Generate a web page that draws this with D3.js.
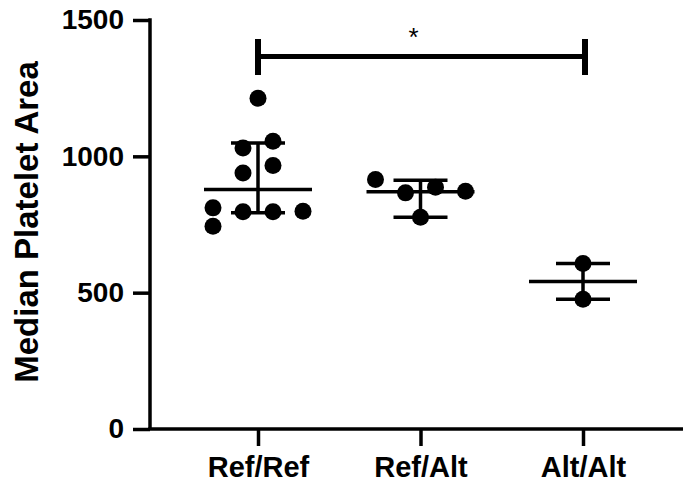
<!DOCTYPE html>
<html>
<head>
<meta charset="utf-8">
<script src="https://cdn.jsdelivr.net/npm/d3@7"></script>
<style>
  html, body { margin: 0; padding: 0; background: #fff; }
  svg { display: block; }
  text { font-family: "Liberation Sans", Arial, sans-serif; fill: #000; }
</style>
</head>
<body>
<svg id="chart" width="683" height="484"></svg>
<script>
// Genotype groups and the individual measurements in each
const categories = ["Ref/Ref", "Ref/Alt", "Alt/Alt"];
const refRef = [1213, 1031, 1055, 939, 966, 811, 797, 797, 799, 744];
const refAlt = [915, 866, 887, 872, 777];
const altAlt = [607, 476];

// Summary line (median) and error-bar limits for each group
const centerLine = [878, 870, 541];
const barLow = [793, 777, 476];
const barHigh = [1049, 912, 607];

const yTicks = [0, 500, 1000, 1500];

// Pairwise comparison annotation
const comparison = { from: "Ref/Ref", to: "Alt/Alt", label: "*" };

const groups = [refRef, refAlt, altAlt];

const svg = d3.select("#chart");
const plot = { left: 150, right: 683, top: 20, bottom: 429 };

const y = d3.scaleLinear().domain([0, 1500]).range([plot.bottom, plot.top]);
const x = d3.scalePoint().domain(categories).range([258, 583]);

const stroke = 3.5;
const dotR = 8.5;
const colStep = 30;     // horizontal spacing between side-by-side dots
const maxCols = 4;

// Spread points that would overlap vertically into side-by-side columns
function spread(values) {
  const order = d3.range(values.length).sort((a, b) => values[b] - values[a]);
  const clusters = [];
  let cur = null, prev = null;
  order.forEach(i => {
    if (prev !== null && (y(values[i]) - y(values[prev])) < dotR * 2) {
      cur.push(i);
    } else {
      cur = [i];
      clusters.push(cur);
    }
    prev = i;
  });
  const offsets = new Array(values.length).fill(0);
  clusters.forEach(c => {
    c.sort((a, b) => a - b);
    const width = Math.min(c.length, maxCols);
    c.forEach((idx, k) => {
      const col = k % maxCols;
      offsets[idx] = (col - (width - 1) / 2) * colStep;
    });
  });
  return offsets;
}

// Y axis
const yAxis = d3.axisLeft(y).tickValues(yTicks).tickSize(17).tickPadding(9).tickFormat(d3.format("d"));
const gy = svg.append("g").attr("transform", `translate(${plot.left},0)`).call(yAxis);
gy.select(".domain").remove();
gy.selectAll(".tick line").attr("stroke", "#000").attr("stroke-width", stroke);
gy.selectAll(".tick text")
  .attr("font-size", 28).attr("font-weight", "bold")
  .attr("font-family", "Liberation Sans, Arial, sans-serif");
svg.append("line")
  .attr("x1", plot.left).attr("x2", plot.left)
  .attr("y1", y(1500) - stroke / 2).attr("y2", plot.bottom)
  .attr("stroke", "#000").attr("stroke-width", stroke);

// X axis
const xAxis = d3.axisBottom(x).tickSize(17).tickPadding(10);
const gx = svg.append("g").attr("transform", `translate(0,${plot.bottom})`).call(xAxis);
gx.select(".domain").remove();
gx.selectAll(".tick line").attr("stroke", "#000").attr("stroke-width", stroke);
gx.selectAll(".tick text")
  .attr("font-size", 29).attr("font-weight", "bold")
  .attr("font-family", "Liberation Sans, Arial, sans-serif");
svg.append("line")
  .attr("x1", plot.left - stroke / 2).attr("x2", plot.right)
  .attr("y1", plot.bottom).attr("y2", plot.bottom)
  .attr("stroke", "#000").attr("stroke-width", stroke);

// Y axis title
svg.append("text")
  .attr("transform", `translate(38,222) rotate(-90)`)
  .attr("text-anchor", "middle")
  .attr("font-size", 33).attr("font-weight", "bold")
  .text("Median Platelet Area");

// Per-group summary bars and points
categories.forEach((cat, gi) => {
  const cx = x(cat);
  const g = svg.append("g");
  // median line
  g.append("line")
    .attr("x1", cx - 54).attr("x2", cx + 54)
    .attr("y1", y(centerLine[gi])).attr("y2", y(centerLine[gi]))
    .attr("stroke", "#000").attr("stroke-width", stroke);
  // whisker
  g.append("line")
    .attr("x1", cx).attr("x2", cx)
    .attr("y1", y(barLow[gi])).attr("y2", y(barHigh[gi]))
    .attr("stroke", "#000").attr("stroke-width", stroke);
  [barLow[gi], barHigh[gi]].forEach(v => {
    g.append("line")
      .attr("x1", cx - 27).attr("x2", cx + 27)
      .attr("y1", y(v)).attr("y2", y(v))
      .attr("stroke", "#000").attr("stroke-width", stroke);
  });
  const vals = groups[gi];
  const off = spread(vals);
  g.selectAll("circle").data(vals).join("circle")
    .attr("cx", (d, i) => cx + off[i])
    .attr("cy", d => y(d))
    .attr("r", dotR)
    .attr("fill", "#000");
});

// Significance bracket
const sx1 = x(comparison.from), sx2 = x(comparison.to) + 2;
const sy = 56.5;
const br = svg.append("g");
br.append("line")
  .attr("x1", sx1).attr("x2", sx2).attr("y1", sy).attr("y2", sy)
  .attr("stroke", "#000").attr("stroke-width", 5);
[sx1, sx2].forEach(xx => {
  br.append("line")
    .attr("x1", xx).attr("x2", xx).attr("y1", sy - 17.5).attr("y2", sy + 18.5)
    .attr("stroke", "#000").attr("stroke-width", 6);
});
br.append("text")
  .attr("x", (sx1 + sx2) / 2 - 8).attr("y", 46)
  .attr("text-anchor", "middle")
  .attr("font-size", 26)
  .text(comparison.label);
</script>
</body>
</html>
